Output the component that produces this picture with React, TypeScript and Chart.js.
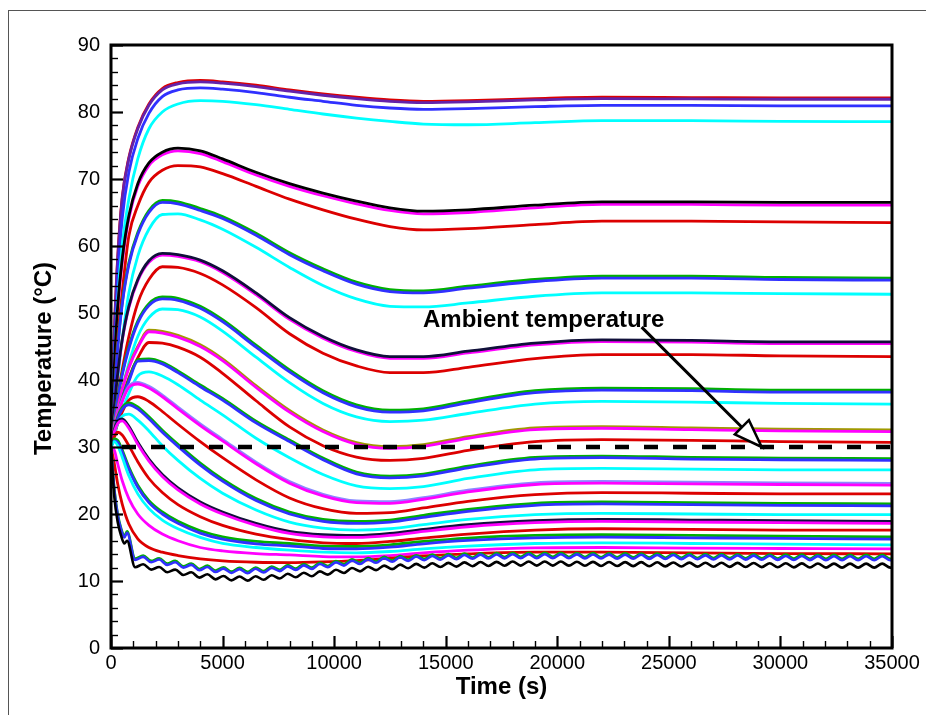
import React, { useEffect, useRef } from "react";
import { Chart, registerables } from "chart.js";

Chart.register(...registerables);

// ---------- axes / ticks ----------
const X_TICKS = [0, 5000, 10000, 15000, 20000, 25000, 30000, 35000];
const Y_TICKS = [0, 10, 20, 30, 40, 50, 60, 70, 80, 90];
const X_MINOR_STEP = 1000;
const Y_MINOR_STEP = 2;
const X_TITLE = "Time (s)";
const Y_TITLE = "Temperature (\u00B0C)\u2003";
const ANNOTATION_TEXT = "Ambient temperature";

// ---------- smooth curves (time grid, s) ----------
const TIME = [0, 150, 300, 500, 800, 1200, 1700, 2300, 3000, 4000, 5000, 6500, 8000, 9500, 11000, 12500, 14000, 16000, 19000, 22000, 26000, 30000, 35000];

const G1_RED = [30, 47.3, 58.3, 67.2, 73.2, 77.7, 81.2, 83.5, 84.4, 84.7, 84.5, 84.0, 83.3, 82.7, 82.2, 81.8, 81.6, 81.7, 82.0, 82.2, 82.15, 82.1, 82.1];
const G1_PURPLE = [30, 47, 58, 67, 73, 77.5, 81, 83.3, 84.2, 84.5, 84.3, 83.8, 83.1, 82.5, 82.0, 81.6, 81.4, 81.5, 81.8, 82.0, 81.95, 81.9, 81.9];
const G1_BLUE = [30, 44, 55, 64, 71, 76, 79.8, 82.3, 83.3, 83.6, 83.4, 82.9, 82.2, 81.6, 81.0, 80.6, 80.4, 80.5, 80.8, 81.0, 81.0, 80.9, 80.9];
const G1_CYAN = [30, 42, 52, 60, 67, 73, 77.5, 80, 81.2, 81.7, 81.6, 81.1, 80.4, 79.7, 79.1, 78.6, 78.2, 78.1, 78.4, 78.7, 78.7, 78.6, 78.55];

const G2_BLACK = [30, 42, 51, 58, 64.5, 69.3, 72.4, 74.0, 74.6, 74.2, 73.0, 71.0, 69.3, 67.9, 66.7, 65.7, 65.2, 65.4, 66.1, 66.6, 66.6, 66.5, 66.5];
const G2_MAGENTA = [30, 41.5, 50.5, 57.5, 64.1, 68.9, 72.0, 73.6, 74.2, 73.8, 72.6, 70.6, 68.9, 67.5, 66.3, 65.3, 64.8, 65.0, 65.7, 66.2, 66.2, 66.1, 66.1];
const G2_RED = [30, 38, 46, 53, 61.5, 66, 69.5, 71.3, 72.0, 71.8, 70.8, 68.9, 67.0, 65.4, 64.0, 62.9, 62.4, 62.6, 63.2, 63.7, 63.7, 63.6, 63.5];

const G3_GREEN = [30, 38, 45, 51.5, 57.5, 62, 65.3, 66.8, 66.6, 65.6, 64.4, 61.9, 59.0, 56.6, 54.6, 53.5, 53.3, 54.0, 55.0, 55.5, 55.5, 55.3, 55.2];
const G3_BLUE = [30, 37.7, 44.7, 51.2, 57.2, 61.7, 65.0, 66.5, 66.3, 65.3, 64.1, 61.6, 58.7, 56.3, 54.3, 53.2, 53.0, 53.7, 54.7, 55.2, 55.2, 55.0, 54.9];
const G3_CYAN = [30, 35, 40, 46, 53, 58.5, 62.5, 64.7, 64.8, 63.9, 62.5, 59.8, 56.8, 54.1, 52.1, 51.0, 50.9, 51.5, 52.5, 53.0, 53.0, 52.9, 52.8];

const G4_BLACK = [30, 36, 41, 46, 51, 55, 57.8, 58.9, 58.7, 57.9, 56.3, 53.0, 49.3, 46.5, 44.5, 43.5, 43.5, 44.3, 45.5, 46.0, 45.9, 45.7, 45.7];
const G4_MAGENTA = [30, 35.8, 40.8, 45.8, 50.8, 54.8, 57.55, 58.65, 58.45, 57.65, 56.05, 52.75, 49.05, 46.25, 44.25, 43.25, 43.25, 44.05, 45.25, 45.75, 45.65, 45.45, 45.45];
const G4_RED = [30, 34, 37.5, 41.5, 46.5, 51.5, 55, 56.9, 56.8, 55.9, 54.2, 50.8, 46.9, 44.0, 42.1, 41.1, 41.1, 41.9, 43.2, 43.8, 43.8, 43.6, 43.5];

const G5_GREEN = [30, 34, 37.5, 41, 45, 48.8, 51.4, 52.4, 52.2, 51.0, 49.0, 45.2, 41.5, 38.4, 36.3, 35.5, 35.7, 36.9, 38.4, 38.8, 38.7, 38.5, 38.5];
const G5_BLUE = [30, 33.8, 37.2, 40.7, 44.7, 48.5, 51.1, 52.1, 51.9, 50.7, 48.7, 44.9, 41.2, 38.1, 36.0, 35.2, 35.4, 36.6, 38.1, 38.5, 38.4, 38.2, 38.2];
const G5_CYAN = [30, 32, 35, 38.5, 42.5, 46.5, 49.3, 50.6, 50.5, 49.4, 47.3, 43.4, 39.6, 36.5, 34.5, 33.8, 34.0, 35.0, 36.4, 36.8, 36.7, 36.5, 36.4];

const G6_OLIVE = [30, 33.2, 35.7, 38.7, 42.0, 45.0, 47.45, 47.25, 46.65, 45.25, 43.15, 39.15, 35.45, 32.55, 30.65, 30.05, 30.35, 31.55, 32.85, 33.05, 32.85, 32.65, 32.55];
const G6_MAGENTA = [30, 33, 35.5, 38.5, 41.8, 44.8, 47.2, 47.0, 46.4, 45.0, 42.9, 38.9, 35.2, 32.3, 30.4, 29.8, 30.1, 31.3, 32.6, 32.8, 32.6, 32.4, 32.3];
const G6_RED = [30, 32, 34.3, 37, 40.3, 43.3, 45.6, 45.5, 44.9, 43.4, 41.0, 36.9, 33.0, 30.2, 28.5, 28.0, 28.3, 29.5, 30.8, 31.1, 31.0, 30.8, 30.7];

const G7_GREEN = [30, 32.5, 34.85, 37.25, 40.05, 43.05, 43.15, 42.65, 41.35, 39.25, 37.25, 33.85, 31.05, 28.35, 26.25, 25.65, 25.95, 27.15, 28.45, 28.65, 28.45, 28.35, 28.25];
const G7_BLUE = [30, 32.3, 34.6, 37.0, 39.8, 42.8, 42.9, 42.4, 41.1, 39.0, 37.0, 33.6, 30.8, 28.1, 26.0, 25.4, 25.7, 26.9, 28.2, 28.4, 28.2, 28.1, 28.0];
const G7_CYAN = [30, 31.8, 33.6, 35.5, 38.0, 40.6, 41.2, 40.6, 39.3, 37.0, 34.8, 31.3, 28.4, 25.9, 24.2, 23.8, 24.1, 25.3, 26.6, 26.8, 26.7, 26.6, 26.6];

const G8_LAVENDER = [30, 32.7, 35.0, 37.0, 39.1, 39.65, 39.05, 37.75, 35.95, 33.45, 31.15, 27.75, 24.85, 22.95, 21.95, 21.85, 22.45, 23.55, 24.65, 24.85, 24.75, 24.65, 24.55];
const G8_MAGENTA = [30, 32.5, 34.8, 36.8, 38.9, 39.4, 38.8, 37.5, 35.7, 33.2, 30.9, 27.5, 24.6, 22.7, 21.7, 21.6, 22.2, 23.3, 24.4, 24.6, 24.5, 24.4, 24.3];
const G8_RED = [30, 31.8, 33.5, 35.2, 37.0, 37.5, 36.8, 35.3, 33.4, 30.8, 28.4, 25.1, 22.4, 20.8, 20.1, 20.2, 20.9, 21.9, 22.9, 23.2, 23.1, 23.0, 23.0];

const G9_GREEN = [30, 32.5, 34.5, 35.9, 36.6, 36.0, 34.5, 32.5, 30.4, 27.6, 25.2, 22.3, 20.3, 19.2, 18.9, 19.1, 19.8, 20.7, 21.6, 21.8, 21.7, 21.6, 21.5];
const G9_BLUE = [30, 32.2, 34.2, 35.6, 36.3, 35.7, 34.2, 32.2, 30.1, 27.3, 24.9, 22.0, 20.0, 18.9, 18.6, 18.8, 19.5, 20.4, 21.3, 21.5, 21.4, 21.3, 21.2];
const G9_CYAN = [30, 32.0, 33.5, 34.6, 34.9, 34.0, 32.4, 30.2, 28.0, 25.3, 23.1, 20.6, 18.8, 17.9, 17.6, 17.8, 18.4, 19.2, 19.9, 20.1, 20.0, 19.9, 19.9];

const G10_DARK = [30, 32.5, 33.8, 34.2, 33.1, 30.7, 28.2, 25.9, 23.9, 21.8, 20.3, 18.6, 17.4, 16.9, 16.8, 17.1, 17.7, 18.4, 19.0, 19.2, 19.1, 19.0, 18.9];
const G10_MAGENTA = [30, 32.3, 33.5, 33.9, 32.8, 30.4, 27.9, 25.6, 23.6, 21.5, 20.0, 18.3, 17.1, 16.6, 16.5, 16.8, 17.4, 18.1, 18.7, 18.9, 18.8, 18.7, 18.6];
const G10_RED = [30, 31.5, 32.2, 31.8, 30.2, 27.8, 25.3, 23.2, 21.4, 19.6, 18.3, 17.0, 16.2, 15.7, 15.6, 15.9, 16.4, 17.0, 17.6, 17.8, 17.7, 17.6, 17.6];

const G11_GREEN = [30, 31.2, 31.0, 29.6, 27.0, 24.3, 22.0, 20.3, 18.9, 17.5, 16.6, 15.9, 15.6, 15.2, 15.15, 15.4, 15.9, 16.4, 16.8, 16.9, 16.8, 16.7, 16.6];
const G11_BLUE = [30, 30.9, 30.7, 29.3, 26.7, 24.0, 21.7, 20.0, 18.6, 17.15, 16.25, 15.55, 15.25, 14.85, 14.8, 15.05, 15.55, 16.05, 16.45, 16.55, 16.45, 16.35, 16.25];
const G11_CYAN = [30, 30.8, 30.2, 28.5, 25.7, 23.0, 20.8, 19.1, 17.8, 16.5, 15.6, 15.0, 14.6, 14.3, 14.2, 14.4, 14.8, 15.2, 15.6, 15.7, 15.6, 15.5, 15.4];

const G12_MAGENTA = [30, 29.5, 27.5, 25.0, 22.3, 20.0, 18.3, 17.0, 16.0, 15.0, 14.5, 14.1, 13.9, 13.65, 13.6, 13.8, 14.2, 14.6, 14.95, 15.0, 14.9, 14.85, 14.8];
const G12_RED = [30, 27.5, 24.5, 21.5, 18.5, 16.3, 15.0, 14.3, 13.8, 13.3, 13.0, 12.8, 12.75, 12.85, 13.05, 13.4, 13.75, 14.05, 14.3, 14.3, 14.2, 14.1, 14.05];

// ---------- oscillating curves (own time grid, s) ----------
const WAVE_TIME = [0, 150, 300, 450, 600, 720,
  1080, 1440, 1800, 2160, 2520, 2880, 3240, 3600, 3960, 4320, 4680, 5040, 5400, 5760, 6120, 6480, 6840, 7200, 7560, 7920,
  8280, 8640, 9000, 9360, 9720, 10080, 10440, 10800, 11160, 11520, 11880, 12240, 12600, 12960, 13320, 13680, 14040, 14400,
  14760, 15120, 15480, 15840, 16200, 16560, 16920, 17280, 17640, 18000, 18360, 18720, 19080, 19440, 19800, 20160, 20520,
  20880, 21240, 21600, 21960, 22320, 22680, 23040, 23400, 23760, 24120, 24480, 24840, 25200, 25560, 25920, 26280, 26640,
  27000, 27360, 27720, 28080, 28440, 28800, 29160, 29520, 29880, 30240, 30600, 30960, 31320, 31680, 32040, 32400, 32760,
  33120, 33480, 33840, 34200, 34560, 34920, 35000];

const WAVE_BLACK = [30, 22.5, 18.8, 16.8, 15.6, 16.0,
  12.05, 12.5, 11.7, 12.1, 11.3, 11.7, 10.9, 11.3, 10.5, 11.0, 10.25, 10.75, 10.1, 10.67, 10.06, 10.72, 10.18, 10.86, 10.37, 11.08,
  10.56, 11.23, 10.7, 11.43, 10.95, 11.68, 11.2, 11.93, 11.44, 12.13, 11.62, 12.3, 11.77, 12.44, 11.9, 12.55, 12.0, 12.64,
  12.08, 12.71, 12.15, 12.78, 12.21, 12.83, 12.25, 12.86, 12.28, 12.9, 12.3, 12.9, 12.3, 12.9, 12.3, 12.9, 12.29,
  12.88, 12.27, 12.86, 12.25, 12.84, 12.23, 12.82, 12.22, 12.81, 12.2, 12.79, 12.18, 12.77, 12.16, 12.75, 12.14, 12.73,
  12.12, 12.72, 12.11, 12.7, 12.09, 12.68, 12.07, 12.66, 12.05, 12.64, 12.04, 12.63, 12.02, 12.61, 12.0, 12.6, 12.0,
  12.6, 12.0, 12.6, 12.0, 12.6, 12.0, 12.05];

const WAVE_BLUE = [30, 23.5, 19.8, 17.7, 16.5, 17.2,
  13.15, 13.6, 12.8, 13.2, 12.4, 12.8, 12.0, 12.4, 11.6, 12.1, 11.35, 11.85, 11.2, 11.77, 11.16, 11.82, 11.28, 11.96, 11.47, 12.18,
  11.66, 12.33, 11.8, 12.53, 12.05, 12.78, 12.3, 13.03, 12.54, 13.23, 12.72, 13.4, 12.87, 13.54, 13.0, 13.65, 13.1, 13.74,
  13.18, 13.81, 13.25, 13.88, 13.31, 13.93, 13.35, 13.96, 13.38, 14.0, 13.4, 14.0, 13.4, 14.0, 13.4, 14.0, 13.39,
  13.98, 13.37, 13.96, 13.35, 13.94, 13.33, 13.92, 13.32, 13.91, 13.3, 13.89, 13.28, 13.87, 13.26, 13.85, 13.24, 13.83,
  13.22, 13.82, 13.21, 13.8, 13.19, 13.78, 13.17, 13.76, 13.15, 13.74, 13.14, 13.73, 13.12, 13.71, 13.1, 13.7, 13.1,
  13.7, 13.1, 13.7, 13.1, 13.7, 13.1, 13.15];

const WAVE_GREEN = [30, 23.7, 20.0, 17.9, 16.7, 17.4,
  13.35, 13.8, 13.0, 13.4, 12.6, 13.0, 12.2, 12.6, 11.8, 12.3, 11.55, 12.05, 11.4, 11.97, 11.36, 12.02, 11.48, 12.16, 11.67, 12.38,
  11.86, 12.53, 12.0, 12.73, 12.25, 12.98, 12.5, 13.23, 12.74, 13.43, 12.92, 13.6, 13.07, 13.74, 13.2, 13.85, 13.3, 13.94,
  13.38, 14.01, 13.45, 14.08, 13.51, 14.13, 13.55, 14.16, 13.58, 14.2, 13.6, 14.2, 13.6, 14.2, 13.6, 14.2, 13.59,
  14.18, 13.57, 14.16, 13.55, 14.14, 13.53, 14.12, 13.52, 14.11, 13.5, 14.09, 13.48, 14.07, 13.46, 14.05, 13.44, 14.03,
  13.42, 14.02, 13.41, 14.0, 13.39, 13.98, 13.37, 13.96, 13.35, 13.94, 13.34, 13.93, 13.32, 13.91, 13.3, 13.9, 13.3,
  13.9, 13.3, 13.9, 13.3, 13.9, 13.3, 13.35];

// ---------- ambient reference line & annotation (data coordinates) ----------
const AMBIENT_TIME = [0, 35000];
const AMBIENT_TEMP = [30, 30];
const LABEL_AT = [13980, 47.9];
const ARROW_FROM = [23780, 47.9];
const ARROW_TO = [29160, 30];

// ---------- styles ----------
const RED = "#dc0000";
const BLUE = "#3030ff";
const CYAN = "#00ffff";
const MAGENTA = "#ff00ff";
const GREEN = "#00b000";
const BLACK = "#000000";
const PURPLE = "#6422aa";
const OLIVE = "#a09a00";
const LAVENDER = "#8a8aff";
const NAVY = "#10103a";
const FONT = "Arial, 'Liberation Sans', Helvetica, sans-serif";

// first listed = drawn on top
const SERIES: { t: number[]; v: number[]; c: string; wave?: boolean }[] = [
  { t: WAVE_TIME, v: WAVE_BLACK, c: BLACK, wave: true },
  { t: WAVE_TIME, v: WAVE_BLUE, c: BLUE, wave: true },
  { t: WAVE_TIME, v: WAVE_GREEN, c: GREEN, wave: true },
  { t: TIME, v: G12_RED, c: RED },
  { t: TIME, v: G12_MAGENTA, c: MAGENTA },
  { t: TIME, v: G11_CYAN, c: CYAN },
  { t: TIME, v: G11_BLUE, c: BLUE },
  { t: TIME, v: G11_GREEN, c: GREEN },
  { t: TIME, v: G10_RED, c: RED },
  { t: TIME, v: G10_MAGENTA, c: MAGENTA },
  { t: TIME, v: G10_DARK, c: NAVY },
  { t: TIME, v: G9_CYAN, c: CYAN },
  { t: TIME, v: G9_BLUE, c: BLUE },
  { t: TIME, v: G9_GREEN, c: GREEN },
  { t: TIME, v: G8_RED, c: RED },
  { t: TIME, v: G8_MAGENTA, c: MAGENTA },
  { t: TIME, v: G8_LAVENDER, c: LAVENDER },
  { t: TIME, v: G7_CYAN, c: CYAN },
  { t: TIME, v: G7_BLUE, c: BLUE },
  { t: TIME, v: G7_GREEN, c: GREEN },
  { t: TIME, v: G6_RED, c: RED },
  { t: TIME, v: G6_MAGENTA, c: MAGENTA },
  { t: TIME, v: G6_OLIVE, c: OLIVE },
  { t: TIME, v: G5_CYAN, c: CYAN },
  { t: TIME, v: G5_BLUE, c: BLUE },
  { t: TIME, v: G5_GREEN, c: GREEN },
  { t: TIME, v: G4_RED, c: RED },
  { t: TIME, v: G4_BLACK, c: NAVY },
  { t: TIME, v: G4_MAGENTA, c: MAGENTA },
  { t: TIME, v: G3_CYAN, c: CYAN },
  { t: TIME, v: G3_BLUE, c: BLUE },
  { t: TIME, v: G3_GREEN, c: GREEN },
  { t: TIME, v: G2_RED, c: RED },
  { t: TIME, v: G2_BLACK, c: BLACK },
  { t: TIME, v: G2_MAGENTA, c: MAGENTA },
  { t: TIME, v: G1_CYAN, c: CYAN },
  { t: TIME, v: G1_BLUE, c: BLUE },
  { t: TIME, v: G1_PURPLE, c: PURPLE },
  { t: TIME, v: G1_RED, c: RED },
];

const toPoints = (xs: number[], ys: number[]) => {
  const n = Math.min(xs.length, ys.length);
  const out: { x: number; y: number }[] = [];
  for (let i = 0; i < n; i++) out.push({ x: xs[i], y: ys[i] });
  return out;
};

const decorPlugin = {
  id: "decor",
  afterDatasetsDraw(chart: any) {
    const { ctx, chartArea, scales } = chart;
    const { left, right, top, bottom } = chartArea;
    const xs = scales.x;
    const ys = scales.y;
    ctx.save();
    ctx.strokeStyle = "#000";
    ctx.lineCap = "butt";
    // x ticks (inward)
    const xMin = X_TICKS[0];
    const xMax = X_TICKS[X_TICKS.length - 1];
    for (let v = xMin; v <= xMax; v += X_MINOR_STEP) {
      const major = X_TICKS.includes(v);
      const px = Math.round(xs.getPixelForValue(v)) + 0.5;
      ctx.lineWidth = major ? 2.2 : 1.4;
      ctx.beginPath();
      ctx.moveTo(px, bottom);
      ctx.lineTo(px, bottom - (major ? 12 : 7));
      ctx.stroke();
    }
    // y ticks (inward)
    const yMin = Y_TICKS[0];
    const yMax = Y_TICKS[Y_TICKS.length - 1];
    for (let v = yMin; v <= yMax; v += Y_MINOR_STEP) {
      const major = Y_TICKS.includes(v);
      const py = Math.round(ys.getPixelForValue(v)) + 0.5;
      ctx.lineWidth = major ? 2.2 : 1.4;
      ctx.beginPath();
      ctx.moveTo(left, py);
      ctx.lineTo(left + (major ? 12 : 7), py);
      ctx.stroke();
    }
    // frame
    ctx.lineWidth = 3;
    ctx.strokeRect(left, top, right - left, bottom - top);

    // annotation text
    ctx.fillStyle = "#000";
    ctx.font = `bold 24px ${FONT}`;
    ctx.textAlign = "left";
    ctx.textBaseline = "alphabetic";
    ctx.fillText(ANNOTATION_TEXT, xs.getPixelForValue(LABEL_AT[0]), ys.getPixelForValue(LABEL_AT[1]));

    // arrow
    const x0 = xs.getPixelForValue(ARROW_FROM[0]);
    const y0 = ys.getPixelForValue(ARROW_FROM[1]);
    const x1 = xs.getPixelForValue(ARROW_TO[0]);
    const y1 = ys.getPixelForValue(ARROW_TO[1]);
    const ang = Math.atan2(y1 - y0, x1 - x0);
    const headLen = 28;
    const headHalf = 10;
    const bx = x1 - headLen * Math.cos(ang);
    const by = y1 - headLen * Math.sin(ang);
    ctx.lineWidth = 3;
    ctx.beginPath();
    ctx.moveTo(x0, y0);
    ctx.lineTo(bx, by);
    ctx.stroke();
    ctx.beginPath();
    ctx.moveTo(x1, y1);
    ctx.lineTo(bx + headHalf * Math.sin(ang), by - headHalf * Math.cos(ang));
    ctx.lineTo(bx - headHalf * Math.sin(ang), by + headHalf * Math.cos(ang));
    ctx.closePath();
    ctx.fillStyle = "#fff";
    ctx.fill();
    ctx.lineWidth = 2.5;
    ctx.lineJoin = "miter";
    ctx.stroke();
    ctx.restore();
  },
};

export default function App() {
  const canvasRef = useRef<HTMLCanvasElement | null>(null);

  useEffect(() => {
    if (!canvasRef.current) return;
    const datasets: any[] = [
      {
        data: toPoints(AMBIENT_TIME, AMBIENT_TEMP),
        borderColor: BLACK,
        borderWidth: 4.5,
        borderDash: [14, 15],
        borderDashOffset: 18,
        pointRadius: 0,
        tension: 0,
      },
      ...SERIES.map((s) => ({
        data: toPoints(s.t, s.v),
        borderColor: s.c,
        borderWidth: s.wave ? 2.6 : 2.8,
        pointRadius: 0,
        cubicInterpolationMode: "monotone",
        fill: false,
      })),
    ];

    const chart = new Chart(canvasRef.current, {
      type: "line",
      data: { datasets },
      options: {
        animation: false,
        responsive: false,
        maintainAspectRatio: false,
        events: [],
        layout: { padding: { left: 0, top: 45, right: 34, bottom: 0 } },
        plugins: { legend: { display: false }, tooltip: { enabled: false } },
        scales: {
          x: {
            type: "linear",
            min: X_TICKS[0],
            max: X_TICKS[X_TICKS.length - 1],
            grid: { display: false, drawTicks: false },
            border: { display: false },
            afterBuildTicks: (scale: any) => {
              scale.ticks = X_TICKS.map((v) => ({ value: v }));
            },
            ticks: {
              autoSkip: false,
              maxRotation: 0,
              padding: 3,
              color: "#000",
              font: { family: FONT, size: 20 },
              callback: (v: any) => String(v),
            },
            title: {
              display: true,
              text: X_TITLE,
              color: "#000",
              font: { family: FONT, size: 24, weight: "bold" },
              padding: { top: 0, bottom: 13.6 },
            },
            afterFit: (scale: any) => {
              scale.height = 67;
            },
          },
          y: {
            type: "linear",
            min: Y_TICKS[0],
            max: Y_TICKS[Y_TICKS.length - 1],
            grid: { display: false, drawTicks: false },
            border: { display: false },
            afterBuildTicks: (scale: any) => {
              scale.ticks = Y_TICKS.map((v) => ({ value: v }));
            },
            ticks: {
              autoSkip: false,
              padding: 11,
              color: "#000",
              font: { family: FONT, size: 20 },
              callback: (v: any) => String(v),
            },
            title: {
              display: true,
              text: Y_TITLE,
              color: "#000",
              font: { family: FONT, size: 24, weight: "bold" },
              padding: { top: 29.6, bottom: 0 },
            },
            afterFit: (scale: any) => {
              scale.width = 111;
            },
          },
        },
      } as any,
      plugins: [decorPlugin],
    });
    return () => chart.destroy();
  }, []);

  return (
    <div style={{ position: "fixed", left: 0, top: 0, width: 926, height: 715, background: "#fff", overflow: "hidden" }}>
      <div
        style={{
          position: "absolute",
          left: 8,
          top: 10,
          right: -2,
          bottom: -2,
          borderTop: "1px solid #555",
          borderLeft: "1px solid #555",
        }}
      />
      <canvas ref={canvasRef} width={926} height={715} style={{ position: "absolute", left: 0, top: 0 }} />
    </div>
  );
}
